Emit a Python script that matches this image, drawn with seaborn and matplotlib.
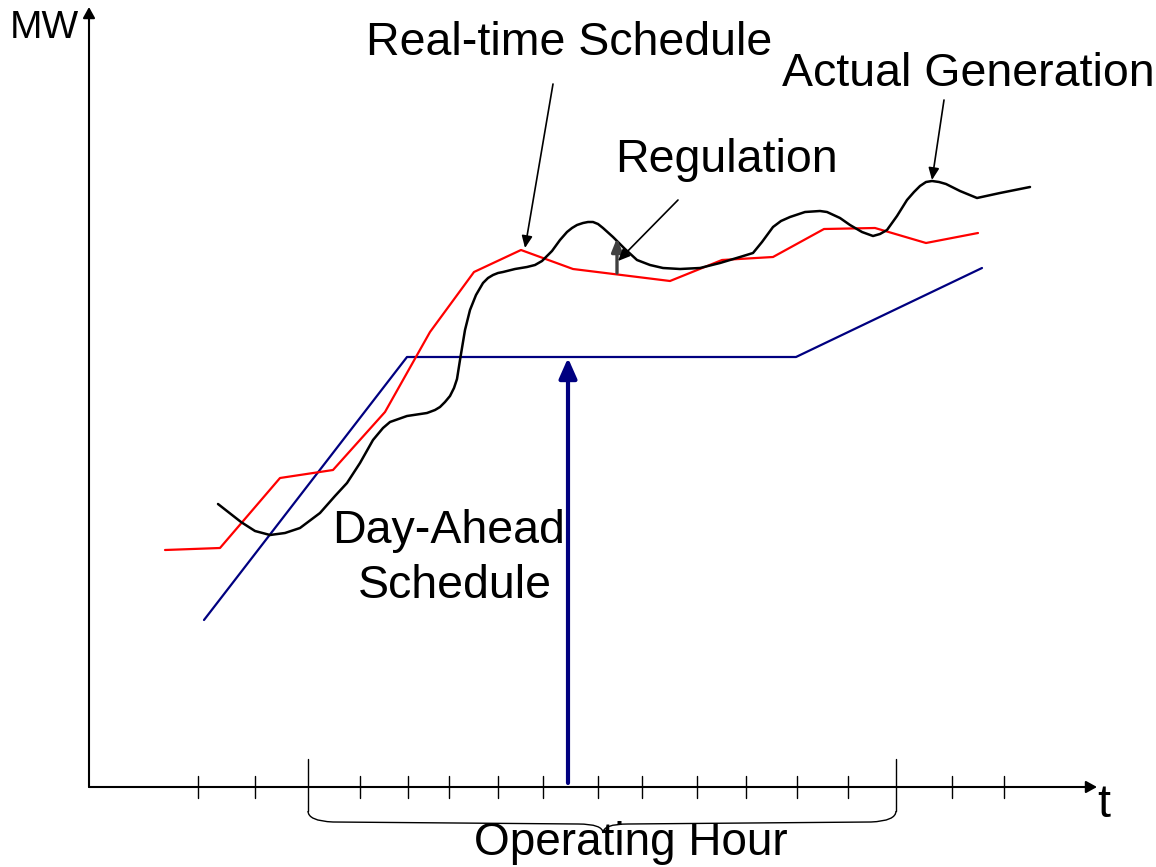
import numpy as np
import pandas as pd
import seaborn as sns
import matplotlib
matplotlib.use("Agg")
import matplotlib.pyplot as plt
from matplotlib.path import Path
from matplotlib.patches import PathPatch

# ---------------- data (t units along time axis, MW units above the time axis) ----------------
day_ahead_t = [115, 318, 707, 893]
day_ahead_mw = [167, 430, 430, 519]

realtime_t = [76, 131, 191, 244, 296, 341, 385, 432, 484, 581, 633, 684, 735, 786, 837, 889]
realtime_mw = [237, 239, 309, 317, 375, 455, 515, 537, 518, 506, 527, 530, 558, 559, 544, 554]

actual_t = [129, 152, 166, 181, 196, 211, 231, 246, 258, 271, 284, 294, 301, 318, 338, 346,
            351, 356, 361, 365, 368, 371, 376, 381, 387, 394, 399, 404, 409, 414, 426, 438,
            446, 453, 458, 463, 471, 478, 483, 488, 494, 499, 504, 509, 514, 524, 536, 548,
            561, 574, 591, 611, 631, 651, 664, 673, 684, 692, 701, 716, 731, 738, 751, 761,
            773, 784, 791, 798, 808, 818, 825, 831, 837, 843, 850, 857, 871, 888, 911, 941]
actual_mw = [283, 265, 256, 252, 254, 259, 274, 291, 304, 324, 347, 359, 365, 371, 374, 377,
             380, 385, 391, 399, 408, 427, 457, 477, 492, 504, 509, 512, 514, 515, 518, 520,
             522, 526, 531, 536, 547, 555, 559, 562, 564, 565, 565, 563, 559, 550, 538, 527,
             522, 519, 518, 519, 524, 530, 534, 545, 560, 566, 570, 575, 576, 575, 569, 562,
             555, 551, 553, 557, 571, 587, 595, 601, 605, 606, 605, 603, 596, 589, 594, 600]

tick_t = [109, 166, 271, 319, 360, 409, 454, 509, 553, 608, 657, 708, 759, 863, 915]
hour_bounds_t = [219, 807]
operating_marker_t = 479

labels = {
    "mw": "MW",
    "t": "t",
    "rts": "Real-time Schedule",
    "ag": "Actual Generation",
    "reg": "Regulation",
    "da1": "Day-Ahead",
    "da2": "Schedule",
    "op": "Operating Hour",
}

# ---------------- figure ----------------
sns.set_theme(style="white")
plt.rcParams["font.family"] = ["Liberation Sans", "DejaVu Sans"]
plt.rcParams["text.color"] = "black"

fig = plt.figure(figsize=(11.56, 8.67), dpi=100)
ax = fig.add_axes([0, 0, 1, 1])
ax.set_xlim(-89, 1067)
ax.set_ylim(-80, 787)
ax.axis("off")

NAVY = "#000080"
RED = "#ff0000"

da = pd.DataFrame({"t": day_ahead_t, "mw": day_ahead_mw})
rt = pd.DataFrame({"t": realtime_t, "mw": realtime_mw})
ag = pd.DataFrame({"t": actual_t, "mw": actual_mw})

sns.lineplot(data=da, x="t", y="mw", sort=False, estimator=None, color=NAVY, lw=1.6, ax=ax)
sns.lineplot(data=rt, x="t", y="mw", sort=False, estimator=None, color=RED, lw=1.6, ax=ax)
sns.lineplot(data=ag, x="t", y="mw", sort=False, estimator=None, color="black", lw=1.8, ax=ax,
             solid_joinstyle="round", solid_capstyle="round")
ax.set_xlabel("")
ax.set_ylabel("")


def arrow(x0, y0, x1, y1, color="black", lw=1.2, hl=0.72, hw=0.32, ms=10):
    ax.annotate("", xy=(x1, y1), xytext=(x0, y0),
                arrowprops=dict(arrowstyle=f"-|>,head_length={hl},head_width={hw}",
                                mutation_scale=ms, color=color, lw=lw,
                                shrinkA=0, shrinkB=0))


# axes with arrows
arrow(0, 0, 0, 780, lw=1.5, hl=0.65, hw=0.36)
arrow(0, 0, 1008, 0, lw=1.5, hl=0.65, hw=0.36)

# tick marks
for x in tick_t:
    ax.plot([x, x], [-11, 11], color="black", lw=1.0)
for x in hour_bounds_t:
    ax.plot([x, x], [-24, 28], color="black", lw=1.0)

# brace under the operating hour
x0, x1 = hour_bounds_t
xm = (x0 + x1) / 2 + 1
verts = [(x0, -24), (x0, -34), (x0 + 25, -35),
         (xm - 25, -37), (xm, -37), (xm, -46),
         (xm, -37), (xm + 25, -37),
         (x1 - 25, -35), (x1, -34), (x1, -24)]
codes = [Path.MOVETO, Path.CURVE3, Path.CURVE3,
         Path.LINETO, Path.CURVE3, Path.CURVE3,
         Path.CURVE3, Path.CURVE3,
         Path.LINETO, Path.CURVE3, Path.CURVE3]
ax.add_patch(PathPatch(Path(verts, codes), fill=False, edgecolor="black", lw=1.0))

# big navy arrow marking the operating hour
arrow(operating_marker_t, 4, operating_marker_t, day_ahead_mw[1] - 1, color=NAVY, lw=3.0,
      hl=1.22, hw=0.54, ms=10)

# regulation arrow (gray) from real-time schedule up to actual generation
arrow(528, 514, 528, 549, color="#404040", lw=2.4, hl=0.8, hw=0.32, ms=10)

# pointer arrows from labels
arrow(464, 703, 436, 539)
arrow(855, 687, 843, 607)
arrow(589, 587, 529, 526)

FS = 33.5
ax.text(-79, 759, labels["mw"], fontsize=28, ha="left", va="center", color="black")
ax.text(1008, -30, labels["t"], fontsize=FS, ha="left", va="baseline", color="black")
ax.text(480, 732, labels["rts"], fontsize=FS, ha="center", va="baseline", color="black")
ax.text(879, 701, labels["ag"], fontsize=FS, ha="center", va="baseline", color="black")
ax.text(637, 615, labels["reg"], fontsize=FS, ha="center", va="baseline", color="black")
ax.text(360, 244, labels["da1"], fontsize=FS, ha="center", va="baseline", color="black")
ax.text(366, 189, labels["da2"], fontsize=FS, ha="center", va="baseline", color="black")
ax.text(542, -68, labels["op"], fontsize=33, ha="center", va="baseline", color="black")

fig.savefig("out.png", dpi=100)
